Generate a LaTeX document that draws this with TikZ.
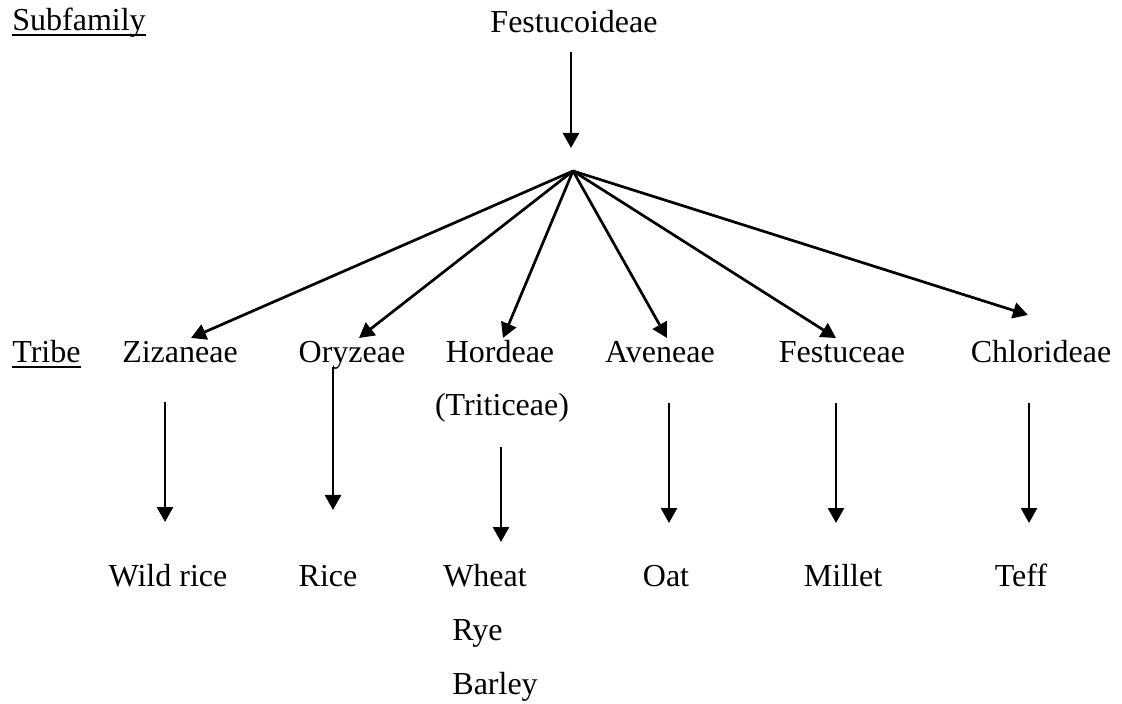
\documentclass[tikz,border=0pt]{standalone}
\usepackage{fontspec}
\setmainfont{Liberation Serif}
\usetikzlibrary{arrows.meta}

\tikzset{
    lbl/.style={inner sep=0pt, anchor=base, font=\fontsize{16}{19}\selectfont},
    arr/.style={line width=1.35pt, -{Triangle[width=8pt,length=7.5pt]}},
    uline/.style={line width=1pt}
}

\begin{document}
\begin{tikzpicture}[x=0.5pt, y=-0.5pt]
    \useasboundingbox (0,0) rectangle (1122,704);
    % Rank labels
    \node[lbl, anchor=base west] (subfam) at (12,31) {Subfamily};
    \node[lbl, anchor=base west] (tribe) at (12,363) {Tribe};
    \draw[uline] ([yshift=-2.2pt]subfam.base west) -- ([yshift=-2.2pt]subfam.base east);
    \draw[uline] ([yshift=-2.2pt]tribe.base west) -- ([yshift=-2.2pt]tribe.base east);
    % Subfamily
    \node[lbl] (festu) at (574,33) {Festucoideae};
    \coordinate (festuout) at (571,52);
    \coordinate (hubin) at (571,148);
    \coordinate (hub) at (573,171);
    \draw[arr] (festuout) -- (hubin);
    % Tribes
    \node[lbl] (ziza) at (180,363) {Zizaneae};
    \node[lbl] (oryz) at (352,363) {Oryzeae};
    \node[lbl] (hord) at (500,363) {Hordeae};
    \node[lbl] (trit) at (502,416) {(Triticeae)};
    \node[lbl] (aven) at (660,363) {Aveneae};
    \node[lbl] (fest) at (842,363) {Festuceae};
    \node[lbl] (chlo) at (1041,363) {Chlorideae};
    % tribe arrow tips
    \coordinate (zizain) at (191,338);
    \coordinate (oryzin) at (359,338);
    \coordinate (hordin) at (503,338);
    \coordinate (avenin) at (667,338);
    \coordinate (festin) at (836,338);
    \coordinate (chloin) at (1028,315);
    \foreach \t in {zizain,oryzin,hordin,avenin,festin,chloin}
        \draw[arr] (hub) -- (\t);
    % Crops
    \node[lbl] (wild) at (168,586) {Wild rice};
    \node[lbl] (rice) at (328,586) {Rice};
    \node[lbl] (wheat) at (485,586) {Wheat};
    \node[lbl, anchor=base west] (rye) at (452,640) {Rye};
    \node[lbl, anchor=base west] (barley) at (452,694) {Barley};
    \node[lbl] (oat) at (666,586) {Oat};
    \node[lbl] (millet) at (843,586) {Millet};
    \node[lbl] (teff) at (1021,586) {Teff};
    % tribe to crop arrows
    \coordinate (zizaout) at (165,402);   \coordinate (wildin) at (165,522);
    \coordinate (oryzout) at (333,367);   \coordinate (ricein) at (333,510);
    \coordinate (hordout) at (501,447);   \coordinate (wheatin) at (501,542);
    \coordinate (avenout) at (669,403);   \coordinate (oatin) at (669,523);
    \coordinate (festout) at (836,403);   \coordinate (milletin) at (836,523);
    \coordinate (chloout) at (1029,403);  \coordinate (teffin) at (1029,523);
    \draw[arr] (zizaout) -- (wildin);
    \draw[arr] (oryzout) -- (ricein);
    \draw[arr] (hordout) -- (wheatin);
    \draw[arr] (avenout) -- (oatin);
    \draw[arr] (festout) -- (milletin);
    \draw[arr] (chloout) -- (teffin);
\end{tikzpicture}
\end{document}
